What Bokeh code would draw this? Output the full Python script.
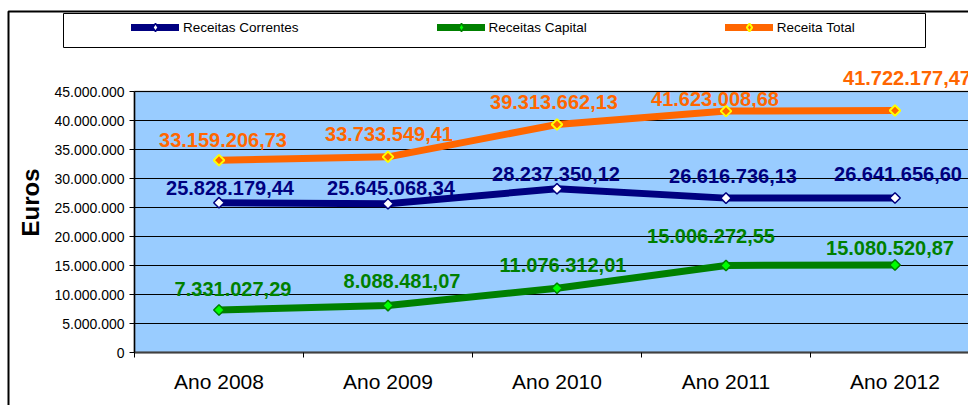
import math
from bokeh.plotting import figure
from bokeh.models import (ColumnDataSource, FixedTicker, Legend, LegendItem, LabelSet,
                          BoxAnnotation, Label, Range1d, Grid)
from bokeh.core.properties import value
from bokeh.embed import file_html
from bokeh.resources import INLINE

# ---------------- data ----------------
categories = ["Ano 2008", "Ano 2009", "Ano 2010", "Ano 2011", "Ano 2012"]
receitas_correntes = [25828179.44, 25645068.34, 28237350.12, 26616736.13, 26641656.60]
receitas_capital = [7331027.29, 8088481.07, 11076312.01, 15006272.55, 15080520.87]
receita_total = [33159206.73, 33733549.41, 39313662.13, 41623008.68, 41722177.47]
y_ticks = [0, 5000000, 10000000, 15000000, 20000000, 25000000, 30000000, 35000000, 40000000, 45000000]
y_tick_labels = ["0", "5.000.000", "10.000.000", "15.000.000", "20.000.000", "25.000.000",
                 "30.000.000", "35.000.000", "40.000.000", "45.000.000"]

# ---------------- layout (pixels) ----------------
W, H = 968, 405
PLOT_LEFT, PLOT_TOP, PLOT_BOTTOM, CAT_PX = 134, 91, 352, 169

# data-label offsets in pixels (layout only)
off_correntes_x = [11, 3, -1, 7, 3]
off_correntes_y = [15, 16, 15, 22, 24]
off_capital_x = [14, 14, 6, -15, -5]
off_capital_y = [21, 25, 23, 29, 17]
off_total_x = [4, 1, -3, -11, 12]
off_total_y = [20, 23, 22, 12, 33]


def fmt(v):
    s = f"{v:,.2f}"
    return s.replace(",", "X").replace(".", ",").replace("X", ".")


xs = list(range(len(categories)))
x_lo = xs[0] - 0.5
x_start = x_lo - PLOT_LEFT / CAT_PX
x_end = x_lo + (W - PLOT_LEFT) / CAT_PX
YMAX = y_ticks[-1]
ppu = YMAX / (PLOT_BOTTOM - PLOT_TOP)
y_start = -(H - PLOT_BOTTOM) * ppu
y_end = YMAX + PLOT_TOP * ppu

FONT = "Liberation Sans"

p = figure(width=W, height=H, output_backend="svg", toolbar_location=None,
           x_range=Range1d(x_start, x_end), y_range=Range1d(y_start, y_end), min_border=0)
p.background_fill_color = "white"
p.border_fill_color = "white"
p.outline_line_color = None

# plot area (blue) with grey border
area = BoxAnnotation(left=x_lo, right=x_end + 1, bottom=y_ticks[0], top=YMAX,
                     fill_color="#99CCFF", fill_alpha=1, line_color="#808080", line_width=2.5,
                     level="image")
p.add_layout(area)

p.xgrid.visible = False
yg = p.ygrid[0]
yg.ticker = FixedTicker(ticks=y_ticks)
yg.grid_line_color = "black"
yg.grid_line_width = 1
yg.bounds = (y_ticks[0], y_ticks[-2])
if "cross_bounds" in Grid.properties():
    yg.cross_bounds = (x_lo, x_end + 1)
else:
    yg.visible = False
    p.segment(x0=[x_lo] * (len(y_ticks) - 1), x1=[x_end + 1] * (len(y_ticks) - 1),
              y0=y_ticks[:-1], y1=y_ticks[:-1], line_color="black", line_width=1)

ya = p.yaxis[0]
ya.fixed_location = x_lo
ya.bounds = (y_ticks[0], YMAX)
ya.ticker = FixedTicker(ticks=y_ticks)
ya.major_label_overrides = {t: l for t, l in zip(y_ticks, y_tick_labels)}
ya.major_label_text_font = FONT
ya.major_label_text_font_size = "14px"
ya.major_label_text_color = "black"
ya.major_tick_out = 5
ya.major_tick_in = 0
ya.minor_tick_out = 0
ya.minor_tick_in = 0
ya.major_label_standoff = 5
ya.axis_line_color = "black"
ya.axis_line_width = 1.5
ya.major_tick_line_color = "black"

xa = p.xaxis[0]
xa.fixed_location = y_ticks[0]
xa.bounds = (x_lo, x_end + 1)
xa.ticker = FixedTicker(ticks=xs, minor_ticks=[i - 0.5 for i in range(len(categories) + 1)])
xa.major_label_overrides = {i: c for i, c in zip(xs, categories)}
xa.major_label_text_font = FONT
xa.major_label_text_font_size = "21px"
xa.major_label_text_color = "black"
xa.major_tick_out = 0
xa.major_tick_in = 0
xa.minor_tick_out = 5
xa.minor_tick_in = 0
xa.minor_tick_line_color = "black"
xa.major_label_standoff = 12
xa.axis_line_color = "#404040"
xa.axis_line_width = 2

series = [
    ("Receitas Correntes", receitas_correntes, "#000080", "white", "#000080", off_correntes_x, off_correntes_y, "#000080"),
    ("Receitas Capital", receitas_capital, "#008000", "#00FF00", "#008000", off_capital_x, off_capital_y, "#008000"),
    ("Receita Total", receita_total, "#FF6600", "#FF6600", "#FFFF00", off_total_x, off_total_y, "#FF6600"),
]

items = []
for name, vals, lc, fc, mc, ox, oy, tc in series:
    src = ColumnDataSource(dict(x=xs, y=vals, lab=[fmt(v) for v in vals], ox=ox, oy=oy))
    lw = 2 if name == "Receita Total" else 1.5
    l = p.line("x", "y", source=src, line_width=7, line_color=lc, line_join="round", line_cap="round")
    s = p.scatter("x", "y", source=src, marker="square", angle=math.pi / 4, size=7.5,
                  fill_color=fc, line_color=mc, line_width=lw)
    # diamond used only for the legend swatch (zero size in the plot)
    sl = p.scatter("x", "y", source=src, marker="diamond", size=0,
                   fill_color=fc, line_color=mc, line_width=lw)
    ls = LabelSet(x="x", y="y", text="lab", source=src, x_offset="ox", y_offset="oy",
                  text_align="center", text_baseline="middle", text_font=value(FONT),
                  text_font_size="20px", text_font_style="bold", text_color=tc)
    p.add_layout(ls)
    items.append(LegendItem(label=name, renderers=[l, sl]))

legend = Legend(items=items, orientation="horizontal", location=(131, 368), padding=0, margin=0,
                spacing=138, glyph_width=48, glyph_height=20, label_height=14, label_standoff=4,
                border_line_color=None, background_fill_alpha=0, label_text_font=FONT,
                label_text_font_size="13.5px", label_text_color="black")
p.add_layout(legend)

outer = BoxAnnotation(left=8, right=W + 50, top=H - 11, bottom=-50, left_units="screen",
                      right_units="screen", top_units="screen", bottom_units="screen",
                      fill_alpha=0, line_color="black", line_width=2, line_alpha=1)
p.add_layout(outer)
lbox = BoxAnnotation(left=63, right=925, top=H - 13, bottom=H - 47, left_units="screen",
                     right_units="screen", top_units="screen", bottom_units="screen",
                     fill_alpha=0, line_color="black", line_width=1, line_alpha=1)
p.add_layout(lbox)

ylab = Label(x=30, y=H - 202, x_units="screen", y_units="screen", text="Euros", angle=math.pi / 2,
             text_align="center", text_baseline="middle", text_font=FONT, text_font_size="24px",
             text_font_style="bold", text_color="black")
p.add_layout(ylab)

open("out.html", "w").write(file_html(p, INLINE))
